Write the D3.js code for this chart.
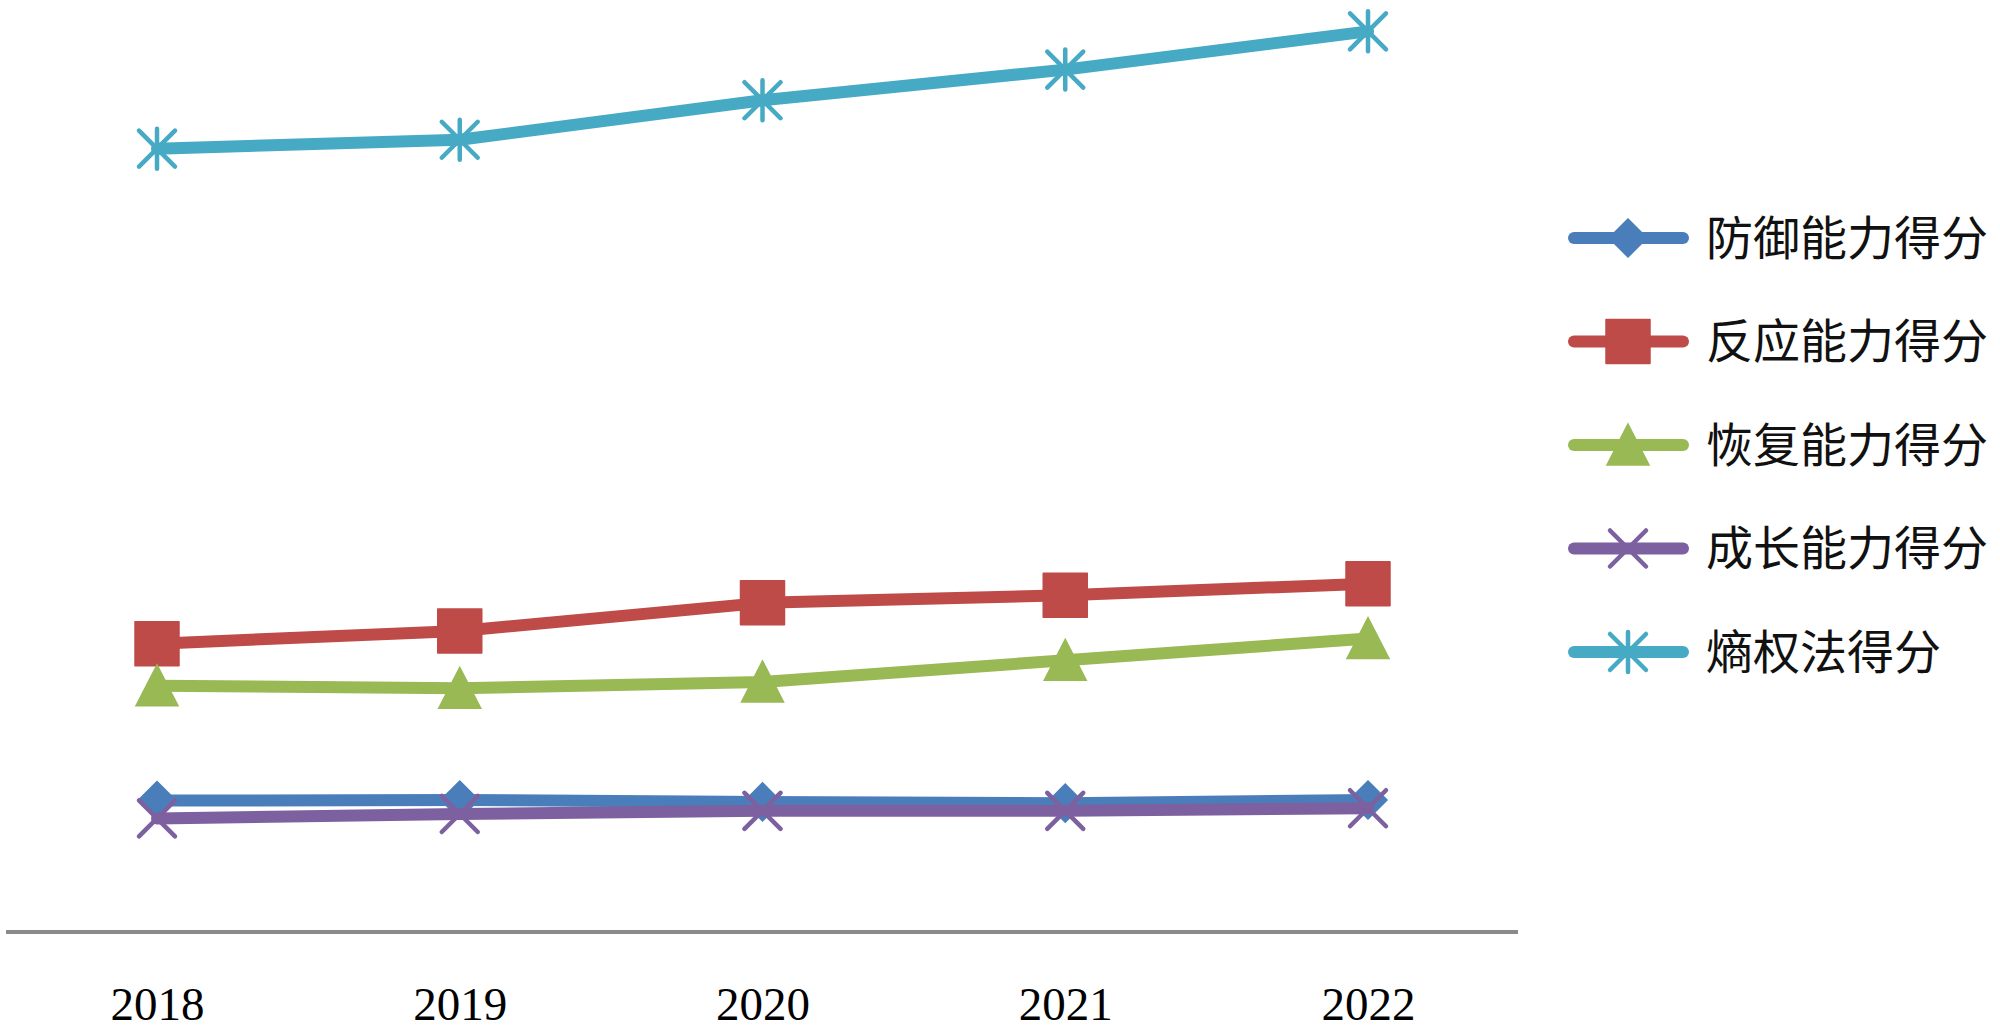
<!DOCTYPE html>
<html>
<head>
<meta charset="utf-8">
<script src="https://cdn.jsdelivr.net/npm/d3@7"></script>
<style>
  html, body { margin: 0; padding: 0; background: #fff; }
  svg { display: block; }
</style>
</head>
<body>
<svg id="chart" width="2000" height="1034"></svg>
<script>
// ---- data ----
const years = ["2018", "2019", "2020", "2021", "2022"];
const seriesNames = ["防御能力得分", "反应能力得分", "恢复能力得分", "成长能力得分", "熵权法得分"];
const defenseScores  = [0.103, 0.1035, 0.102, 0.101, 0.1035];
const responseScores = [0.226, 0.236, 0.258, 0.264, 0.273];
const recoveryScores = [0.193, 0.191, 0.196, 0.213, 0.230];
const growthScores   = [0.089, 0.0925, 0.095, 0.095, 0.097];
const entropyScores  = [0.614, 0.621, 0.652, 0.676, 0.706];

const seriesValues = [defenseScores, responseScores, recoveryScores, growthScores, entropyScores];
const colors = ["#4A7EBB", "#BE4B48", "#98B954", "#7D60A0", "#46AAC5"];
const markers = ["diamond", "square", "triangle", "x", "star"];

// ---- layout ----
const svg = d3.select("#chart");
const x = d3.scalePoint().domain(years).range([157, 1368]);
const y = d3.scaleLinear().domain([0, 0.7]).range([932, 39]);

// axis line
svg.append("line")
  .attr("x1", 6).attr("x2", 1518)
  .attr("y1", y(0)).attr("y2", y(0))
  .attr("stroke", "#8a8a8a").attr("stroke-width", 4);

// x axis labels via d3 axis
const xAxis = d3.axisBottom(x).tickSize(0).tickPadding(0);
const gx = svg.append("g").attr("transform", `translate(0, 982)`).call(xAxis);
gx.select(".domain").remove();
gx.selectAll("text")
  .attr("font-family", "'Liberation Serif', 'Times New Roman', serif")
  .attr("font-size", 47)
  .attr("fill", "#000")
  .attr("dy", "0.81em")
  .attr("y", 0);

function markerPath(type) {
  switch (type) {
    case "diamond": return "M0,-19L19,0L0,19L-19,0Z";
    case "square": return "M-22,-22H22V22H-22Z";
    case "triangle": return "M0,-21L21,20H-21Z";
    case "x": return "M-18,-18L18,18M-18,18L18,-18";
    case "star": return "M-18,-18L18,18M-18,18L18,-18M0,-20V20";
  }
}
function drawMarker(g, type, color, cx, cy) {
  const filled = (type === "diamond" || type === "square" || type === "triangle");
  const p = g.append("path")
    .attr("d", markerPath(type))
    .attr("transform", `translate(${cx},${cy})`);
  if (filled) {
    p.attr("fill", color).attr("stroke", color).attr("stroke-width", 1.5)
     .attr("stroke-linejoin", type === "square" ? "round" : "miter");
  } else {
    p.attr("fill", "none").attr("stroke", color).attr("stroke-width", 4.5)
     .attr("stroke-linecap", "round");
  }
}

const line = d3.line().x((d, i) => x(years[i])).y(d => y(d));

seriesValues.forEach((vals, si) => {
  const g = svg.append("g");
  g.append("path")
    .attr("d", line(vals))
    .attr("fill", "none")
    .attr("stroke", colors[si])
    .attr("stroke-width", 12)
    .attr("stroke-linejoin", "round")
    .attr("stroke-linecap", "round");
  vals.forEach((v, i) => drawMarker(g, markers[si], colors[si], x(years[i]), y(v)));
});

// legend
const legendY0 = 238, legendStep = 103.5;
seriesNames.forEach((name, si) => {
  const ly = legendY0 + si * legendStep;
  const g = svg.append("g");
  g.append("line")
    .attr("x1", 1574).attr("x2", 1683)
    .attr("y1", ly).attr("y2", ly)
    .attr("stroke", colors[si]).attr("stroke-width", 12)
    .attr("stroke-linecap", "round");
  drawMarker(g, markers[si], colors[si], 1628, ly);
  g.append("text")
    .attr("x", 1706).attr("y", ly)
    .attr("dy", "0.36em")
    .attr("font-family", "'Noto Sans CJK SC', sans-serif")
    .attr("font-size", 47)
    .attr("fill", "#111")
    .text(name);
});
</script>
</body>
</html>
